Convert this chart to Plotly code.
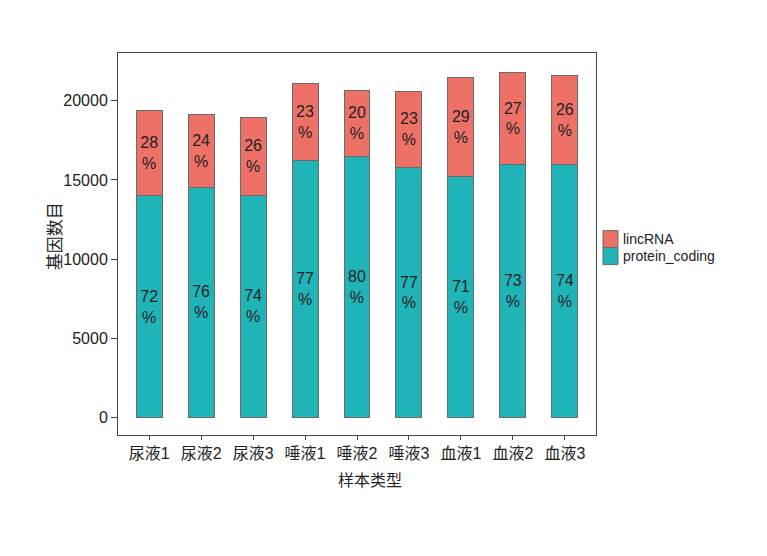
import plotly.graph_objects as go

categories = ["尿液1", "尿液2", "尿液3", "唾液1", "唾液2", "唾液3", "血液1", "血液2", "血液3"]
protein_coding = [14000, 14550, 14050, 16200, 16500, 15800, 15200, 15950, 16000]
lincrna = [5400, 4550, 4900, 4900, 4150, 4800, 6250, 5850, 5600]
pct_protein = [72, 76, 74, 77, 80, 77, 71, 73, 74]
pct_lincrna = [28, 24, 26, 23, 20, 23, 29, 27, 26]
y_ticks = [0, 5000, 10000, 15000, 20000]
legend_names = ["lincRNA", "protein_coding"]

FONT = "Liberation Sans, Arial, Noto Sans CJK SC, sans-serif"
C_LNC = "#EE7168"
C_PC = "#1FB4B8"
OUTLINE = "#6b6b6b"

fig = go.Figure()
fig.add_trace(go.Bar(
    x=categories, y=protein_coding, name="protein_coding",
    marker=dict(color=C_PC, line=dict(color=OUTLINE, width=1)),
    width=0.5,
    text=[f"{p}<br>%" for p in pct_protein], textposition="inside",
    insidetextanchor="middle",
    textfont=dict(size=16, color="#222222", family=FONT),
    hoverinfo="skip", showlegend=False,
))
fig.add_trace(go.Bar(
    x=categories, y=lincrna, name="lincRNA",
    marker=dict(color=C_LNC, line=dict(color=OUTLINE, width=1)),
    width=0.5,
    text=[f"{p}<br>%" for p in pct_lincrna], textposition="inside",
    insidetextanchor="middle",
    textfont=dict(size=16, color="#222222", family=FONT),
    hoverinfo="skip", showlegend=False,
))

fig.update_layout(
    width=767, height=556,
    barmode="stack",
    plot_bgcolor="white", paper_bgcolor="white",
    margin=dict(l=118, r=171, t=53, b=121),
    font=dict(family=FONT, size=16, color="#222222"),
    showlegend=False,
    xaxis=dict(
        range=[-0.6, 8.6],
        showline=True, mirror=True, linecolor="#444444", linewidth=1,
        ticks="outside", ticklen=4, tickcolor="#444444",
        showgrid=False, zeroline=False,
        tickfont=dict(size=16, color="#222222", family=FONT),
    ),
    yaxis=dict(
        range=[-1091, 23009],
        tickvals=y_ticks, ticktext=[str(v) for v in y_ticks],
        showline=True, mirror=True, linecolor="#444444", linewidth=1,
        ticks="outside", ticklen=6, tickcolor="#444444",
        showgrid=False, zeroline=False,
        tickfont=dict(size=16, color="#222222", family=FONT),
    ),
)

# axis titles
fig.add_annotation(text="样本类型", xref="paper", yref="paper", x=0.527, y=-0.118,
                   yanchor="middle", showarrow=False,
                   font=dict(size=16, color="#222222", family=FONT))
fig.add_annotation(text="基因数目", xref="paper", yref="paper", x=-0.132, y=0.52,
                   xanchor="center", yanchor="middle", textangle=-90, showarrow=False,
                   font=dict(size=17, color="#222222", family=FONT))

# legend (ggplot-style, keys touching)
key_x0, key_x1 = 1.0146, 1.046
key_top = 0.535
key_h = 0.0445
for i, (name, col) in enumerate(zip(legend_names, [C_LNC, C_PC])):
    y1 = key_top - i * key_h
    y0 = y1 - key_h
    fig.add_shape(type="rect", xref="paper", yref="paper",
                  x0=key_x0, x1=key_x1, y0=y0, y1=y1,
                  fillcolor=col, line=dict(color=OUTLINE, width=1))
    fig.add_annotation(text=name, xref="paper", yref="paper",
                       x=key_x1 + 0.006, y=(y0 + y1) / 2,
                       xanchor="left", yanchor="middle", showarrow=False,
                       font=dict(size=14, color="#222222", family=FONT))

fig.write_html("out.html")
